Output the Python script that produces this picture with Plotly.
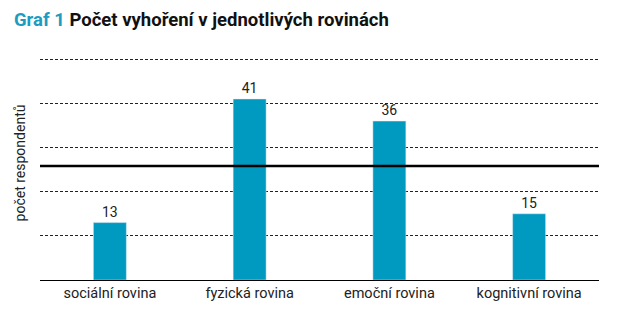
import plotly.graph_objects as go

categories = ["sociální rovina", "fyzická rovina", "emoční rovina", "kognitivní rovina"]
values = [13, 41, 36, 15]
reference_line = 25.8
y_max = 53
grid_step = 10

teal = "#0099BF"

fig = go.Figure()
fig.add_trace(go.Bar(
    x=categories, y=values, marker_color=teal, width=0.236,
    text=[str(v) for v in values], textposition="outside",
    textfont=dict(family="Roboto", size=14, color="#222"),
    cliponaxis=False,
))

fig.add_shape(type="line", xref="paper", yref="y", x0=0, x1=1,
              y0=reference_line, y1=reference_line,
              line=dict(color="black", width=2.5), layer="above")

fig.update_layout(
    width=617, height=332,
    margin=dict(l=40, r=18, t=46, b=52),
    paper_bgcolor="white", plot_bgcolor="white",
    showlegend=False,
    title=dict(
        text="<span style='color:#1E9BC0'>Graf 1</span> Počet vyhoření v jednotlivých rovinách",
        x=14 / 617, xref="container", xanchor="left", y=1, yref="container", yanchor="top",
        pad=dict(t=13),
        font=dict(family="Roboto", size=18.5, color="#111", weight="bold"),
    ),
    xaxis=dict(showline=True, linecolor="black", linewidth=1, ticks="",
               tickfont=dict(family="Roboto", size=14.5, color="#222"),
               showgrid=False),
    yaxis=dict(range=[0, y_max], dtick=grid_step, tick0=0,
               showticklabels=False, showgrid=True, gridcolor="#222",
               griddash="3px,2px", gridwidth=1, zeroline=False,
               title=dict(text="počet respondentů", standoff=10,
                          font=dict(family="Roboto", size=14, color="#222"))),
)

fig.write_html("out.html")
